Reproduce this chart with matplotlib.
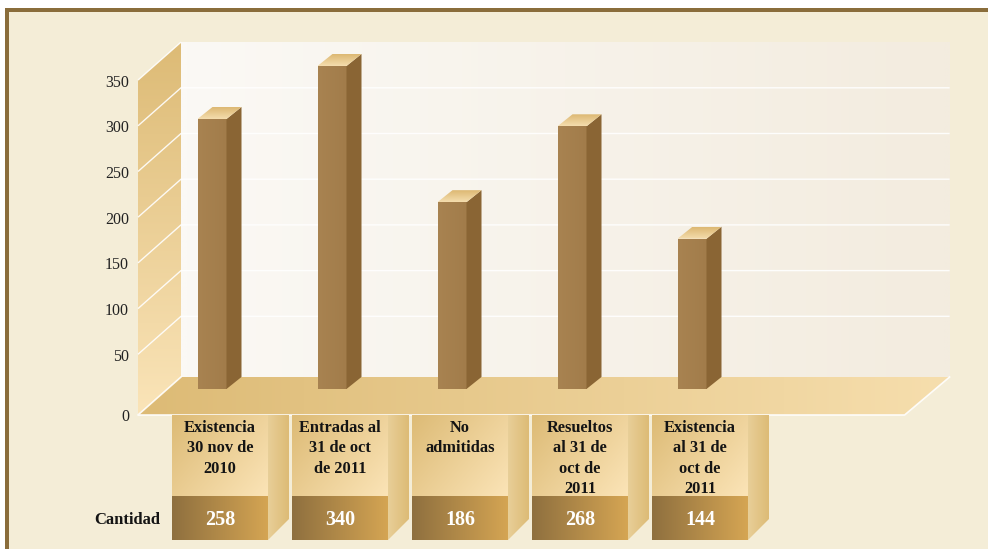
import numpy as np
import matplotlib
matplotlib.use('Agg')
import matplotlib.pyplot as plt
from matplotlib.colors import to_rgb
from matplotlib.patches import Polygon, Rectangle

categories = ['Existencia\n30 nov de\n2010', 'Entradas al\n31 de oct\nde 2011', 'No\nadmitidas',
              'Resueltos\nal 31 de\noct de\n2011', 'Existencia\nal 31 de\noct de\n2011']
cantidad = [258, 340, 186, 268, 144]
# bar heights, they do not follow the printed numbers exactly
bar_tops = [279, 337, 188, 271, 148]
y_ticks = [0, 50, 100, 150, 200, 250, 300, 350]

PX_CAT = 120.0   # pixels per category
PX_VAL = 0.914   # pixels per unit on the y axis
FLOOR = -16.4    # the floor sits a bit under the zero of the scale
SERIF = 'Liberation Serif'

fig = plt.figure(figsize=(9.88, 5.49), dpi=100, facecolor='white')
fig.add_artist(Rectangle((5 / 988, 0), 983 / 988, 1 - 8 / 549, transform=fig.transFigure,
                         facecolor='#8A6D3B', edgecolor='none', zorder=-2))
fig.add_artist(Rectangle((8.6 / 988, 0), 980 / 988, 1 - 12 / 549, transform=fig.transFigure,
                         facecolor='#F4EDD7', edgecolor='none', zorder=-1))

ax = fig.add_axes([0, 0, 1, 1])
ax.patch.set_visible(False)
ax.axis('off')
xlim = (-213 / PX_CAT, (988 - 213) / PX_CAT)
ylim = ((400 - 549) / PX_VAL, 400 / PX_VAL)


def P(cat, val, dx=0, dy=0):
    # dx, dy are offsets in pixels, dy going up
    return (cat + dx / PX_CAT, val + dy / PX_VAL)


def grad(pts, c0, c1, angle=0, z=1):
    # linear gradient inside a polygon, angle in degrees in screen space
    pts = np.array(pts)
    x0, y0 = pts.min(axis=0)
    x1, y1 = pts.max(axis=0)
    u, v = np.meshgrid(np.linspace(0, 1, 64), np.linspace(0, 1, 64))
    t = u * np.cos(np.radians(angle)) + v * np.sin(np.radians(angle))
    t = (t - t.min()) / (t.max() - t.min())
    img = np.array(to_rgb(c0)) + t[..., None] * (np.array(to_rgb(c1)) - np.array(to_rgb(c0)))
    im = ax.imshow(img, extent=(x0, x1, y0, y1), origin='lower', aspect='auto', zorder=z,
                   interpolation='bilinear')
    clip = Polygon(pts, closed=True, transform=ax.transData, facecolor='none', edgecolor='none')
    ax.add_patch(clip)
    im.set_clip_path(clip)


wall_x = -0.625
back_dx, back_dy = 43, 38
wall_end = 5.78
top = 350

# back wall
grad([P(wall_x, FLOOR, back_dx, back_dy), P(wall_end, FLOOR, back_dx, back_dy),
      P(wall_end, top, back_dx, back_dy), P(wall_x, top, back_dx, back_dy)],
     '#FBF9F5', '#F3ECDF', angle=0, z=1)
# left wall
grad([P(wall_x, FLOOR), P(wall_x, FLOOR, back_dx, back_dy),
      P(wall_x, top, back_dx, back_dy), P(wall_x, top)],
     '#FAE4B8', '#DDBB76', angle=90, z=2)

# grid lines, wall part and back part
for t in y_ticks[1:]:
    xs, ys = zip(P(wall_x, t), P(wall_x, t, back_dx, back_dy), P(wall_end, t, back_dx, back_dy))
    if t == top:
        xs, ys = xs[:2], ys[:2]
    ax.plot(xs, ys, color='white', lw=1.0, alpha=0.9, zorder=3, solid_capstyle='butt')

# floor
floor_pts = [P(wall_x, FLOOR), P(wall_end, FLOOR, -2, 0), P(wall_end, FLOOR, back_dx, back_dy),
             P(wall_x, FLOOR, back_dx, back_dy)]
grad(floor_pts, '#DDBB76', '#F6DEAD', angle=0, z=4)
xs, ys = zip(P(wall_x, FLOOR, back_dx, back_dy), P(wall_x, FLOOR), P(wall_end, FLOOR, -2, 0),
             P(wall_end, FLOOR, back_dx, back_dy))
ax.plot(xs, ys, color='white', lw=1.2, alpha=0.9, zorder=5)

# bars
bar_w = 29 / PX_CAT
bar_dx, bar_dy = 15, 12
bar_lift = 26  # front face of the bars stands further back than the front of the floor
for i, h in enumerate(bar_tops):
    left = i - 1 / PX_CAT - bar_w / 2
    right = i - 1 / PX_CAT + bar_w / 2
    grad([P(left, FLOOR, 0, bar_lift), P(right, FLOOR, 0, bar_lift), P(right, h, 0, bar_lift), P(left, h, 0, bar_lift)],
         '#A88351', '#A27C4A', angle=0, z=6)
    ax.add_patch(Polygon([P(right, FLOOR, 0, bar_lift), P(right, FLOOR, bar_dx, bar_lift + bar_dy),
                          P(right, h, bar_dx, bar_lift + bar_dy), P(right, h, 0, bar_lift)],
                         closed=True, facecolor='#8A6534', edgecolor='none', zorder=6))
    grad([P(left, h, 0, bar_lift), P(right, h, 0, bar_lift), P(right, h, bar_dx, bar_lift + bar_dy),
          P(left, h, bar_dx, bar_lift + bar_dy)],
         '#F4DDAE', '#DDB872', angle=90, z=6)

# y tick labels
for t in y_ticks:
    yv = FLOOR if t == 0 else t
    ax.text(*P(wall_x, yv, -9, -2.5), str(t), ha='right', va='center', fontsize=11.5,
            family=SERIF, color='#222222', zorder=8)

# table under the floor
box_w = 96 / PX_CAT
box_off = 7 / PX_CAT
head_h = 81 / PX_VAL
val_h = 44 / PX_VAL
side_dx = 21
for i, (name, n) in enumerate(zip(categories, cantidad)):
    left = i + box_off - box_w / 2
    right = i + box_off + box_w / 2
    mid = i + box_off
    grad([P(right, FLOOR), P(right, FLOOR, side_dx, 0), P(right, FLOOR - head_h - val_h, side_dx, side_dx),
          P(right, FLOOR - head_h - val_h)],
         '#E8CF98', '#DDBB76', angle=0, z=7)
    grad([P(left, FLOOR), P(right, FLOOR), P(right, FLOOR - head_h), P(left, FLOOR - head_h)],
         '#DDBB76', '#FBE4B7', angle=-35, z=7)
    grad([P(left, FLOOR - head_h), P(right, FLOOR - head_h), P(right, FLOOR - head_h - val_h), P(left, FLOOR - head_h - val_h)],
         '#8F703F', '#D5A553', angle=0, z=7)
    ax.text(mid, FLOOR - 5 / PX_VAL, name, ha='center', va='top', fontsize=11.8, fontweight='bold',
            family=SERIF, color='#141414', linespacing=1.36, zorder=8)
    ax.text(mid, FLOOR - head_h - val_h / 2 - 2 / PX_VAL, str(n), ha='center', va='center', fontsize=14.5,
            fontweight='bold', family=SERIF, color='white', zorder=8)

ax.text(*P(0, FLOOR - head_h - val_h / 2, -53, -2), 'Cantidad', ha='right', va='center', fontsize=12,
        fontweight='bold', family=SERIF, color='#141414', zorder=8)

ax.set_xlim(*xlim)
ax.set_ylim(*ylim)
fig.savefig('out.png', dpi=100)
